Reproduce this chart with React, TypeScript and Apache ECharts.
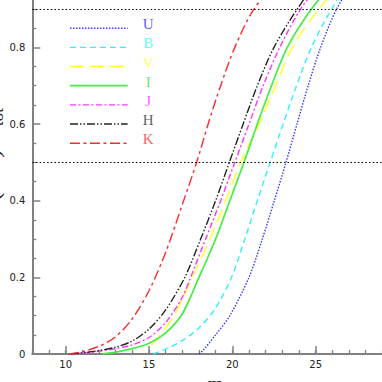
import React, { useEffect, useRef } from "react";
import * as echarts from "echarts";

// Cumulative luminosity fraction L(<m)/L_tot vs magnitude m, per band
const uM = [18.0, 18.25, 19.0, 19.85, 21.0, 21.8, 22.52, 23.22, 23.88, 24.55, 25.3, 26.26, 27.2, 29.0];
const uF = [0, 0.01, 0.05, 0.1, 0.2, 0.3, 0.4, 0.5, 0.6, 0.7, 0.8, 0.9, 0.96, 1.0];

const bM = [15.25, 16.0, 17.0, 18.0, 19.0, 20.0, 20.75, 21.5, 22.27, 23.05, 23.85, 24.75, 25.96, 27.0, 29.0];
const bF = [0, 0.013, 0.035, 0.068, 0.12, 0.205, 0.3, 0.4, 0.5, 0.6, 0.7, 0.8, 0.9, 0.96, 1.0];

const vM = [15.16, 15.5, 16.5, 17.6, 18.65, 19.6, 20.5, 21.6, 22.6, 23.6, 25.2, 26.5, 28.5];
const vF = [0.023, 0.04, 0.1, 0.2, 0.3, 0.4, 0.5, 0.6, 0.7, 0.8, 0.9, 0.96, 1.0];

const iM = [12.2, 13.0, 14.0, 15.0, 16.0, 17.0, 18.0, 19.0, 19.85, 20.7, 21.5, 22.35, 23.3, 24.75, 26.0, 28.0];
const iF = [0, 0.005, 0.014, 0.028, 0.055, 0.105, 0.2, 0.3, 0.4, 0.5, 0.6, 0.7, 0.8, 0.9, 0.96, 1.0];

const jM = [10.3, 11.0, 12.0, 13.0, 14.0, 15.0, 16.0, 17.0, 17.5, 18.4, 19.3, 20.15, 21.0, 21.85, 22.85, 24.1, 25.3, 27.5];
const jF = [0, 0.002, 0.007, 0.014, 0.024, 0.043, 0.082, 0.148, 0.2, 0.3, 0.4, 0.5, 0.6, 0.7, 0.8, 0.9, 0.96, 1.0];

const hM = [10.3, 11.0, 12.0, 13.0, 14.0, 15.0, 16.0, 17.15, 18.1, 19.0, 19.82, 20.65, 21.5, 22.5, 23.9, 25.0, 27.0];
const hF = [0, 0.003, 0.009, 0.018, 0.034, 0.065, 0.115, 0.2, 0.3, 0.4, 0.5, 0.6, 0.7, 0.8, 0.9, 0.96, 1.0];

const kM = [10.2, 11.0, 12.0, 13.0, 14.0, 15.0, 16.0, 17.0, 17.86, 18.55, 19.3, 20.15, 21.3, 22.6, 25.0];
const kF = [0, 0.006, 0.02, 0.045, 0.092, 0.165, 0.265, 0.39, 0.5, 0.6, 0.7, 0.8, 0.9, 0.96, 1.0];

const bandNames = ["U", "B", "V", "I", "J", "H", "K"];
const bandM = [uM, bM, vM, iM, jM, hM, kM];
const bandF = [uF, bF, vF, iF, jF, hF, kF];

// legend rows drawn in data coordinates
const legendY = [0.85, 0.8, 0.75, 0.7, 0.65, 0.6, 0.55];
const legendLineX = [10.26, 13.72];
const legendLabelX = 14.95;

// reference levels
const refLevels = [0.9, 0.5];

// axis ticks
const xMajorTicks = [10, 15, 20, 25, 30];

const yTitleMain = "L(<m)/L";
const yTitleSub = "tot";

const colors = ["#3a3aff", "#33f0ff", "#ffff22", "#44ee44", "#ff33ff", "#222222", "#ff2a2a"];
const labelColors = ["#3333ff", "#33ffff", "#ffff33", "#44dd44", "#ff33ff", "#333333", "#ff3333"];
const dashes: any[] = [[1.5, 1.5], [6, 4], [14, 6], "solid", [6, 2.5, 2, 2.5], [8, 2, 1.5, 2, 1.5, 2], [10, 3.5, 3, 3.5]];
const widths = [1.4, 1.4, 1.4, 1.7, 1.4, 1.4, 1.4];

export default function App() {
  const ref = useRef<HTMLDivElement>(null);
  useEffect(() => {
    if (!ref.current) return;
    const chart = echarts.init(ref.current, null, { renderer: "svg" });
    const axisGray = "#808080";

    const series: any[] = [];
    bandNames.forEach((name, i) => {
      series.push({
        name,
        type: "line",
        xAxisIndex: 0,
        yAxisIndex: 0,
        data: bandM[i].map((m, k) => [m, bandF[i][k]]),
        showSymbol: false,
        symbol: "none",
        smooth: 0.3,
        lineStyle: { color: colors[i], width: widths[i], type: dashes[i] },
        z: 3,
      });
      series.push({
        name: name + "-legend",
        type: "line",
        data: legendLineX.map((x) => [x, legendY[i]]),
        showSymbol: false,
        symbol: "none",
        lineStyle: { color: colors[i], width: widths[i], type: dashes[i] },
        z: 3,
      });
    });
    series.push({
      name: "legend-labels",
      type: "scatter",
      symbolSize: 1,
      itemStyle: { color: "transparent" },
      data: bandNames.map((n, i) => ({
        value: [legendLabelX, legendY[i]],
        label: {
          show: true,
          position: "inside",
          formatter: n,
          color: labelColors[i],
          fontFamily: "Liberation Serif",
          fontSize: 15,
          offset: [0, -4],
        },
      })),
      z: 4,
    });
    series.push({
      name: "ref",
      type: "line",
      data: [],
      markLine: {
        silent: true,
        symbol: ["none", "none"],
        label: { show: false },
        lineStyle: { color: "#000", type: [1.5, 2.2], width: 1.2 },
        data: refLevels.map((v) => ({ yAxis: v })),
      },
    });

    chart.setOption({
      animation: false,
      backgroundColor: "#fff",
      grid: {
        left: 32.3,
        right: -17,
        top: -29.3,
        bottom: 28,
        containLabel: false,
        outerBoundsMode: "none",
      },
      graphic: [
        {
          type: "text",
          x: -9.3,
          y: 171.5,
          rotation: Math.PI / 2,
          silent: true,
          style: {
            text: yTitleMain,
            fontFamily: "Liberation Serif",
            fontSize: 26,
            fill: "#222",
            align: "center",
            verticalAlign: "middle",
          },
        },
        {
          type: "text",
          x: -2.5,
          y: 117,
          rotation: Math.PI / 2,
          silent: true,
          style: {
            text: yTitleSub,
            fontFamily: "Liberation Serif",
            fontSize: 17,
            fill: "#222",
            align: "center",
            verticalAlign: "middle",
          },
        },
      ],
      xAxis: [
        {
          type: "value",
          min: 8,
          max: 30,
          interval: 1,
          position: "bottom",
          name: "m",
          nameLocation: "middle",
          nameGap: 14,
          nameTextStyle: { fontFamily: "Liberation Serif", fontSize: 20, color: "#222" },
          axisLine: { show: true, lineStyle: { color: axisGray, width: 2 } },
          axisTick: { show: true, inside: true, length: 4, lineStyle: { color: axisGray, width: 1.3 } },
          axisLabel: {
            margin: 5,
            color: "#222",
            fontFamily: "DejaVu Sans",
            fontSize: 10,
            formatter: (v: number) => (v % 5 === 0 ? String(v) : ""),
          },
          splitLine: { show: false },
        },
        {
          type: "value",
          min: 8,
          max: 30,
          position: "bottom",
          axisLine: { show: false },
          axisTick: { show: true, inside: true, length: 8, customValues: xMajorTicks, lineStyle: { color: axisGray, width: 1.5 } },
          axisLabel: { show: false },
          splitLine: { show: false },
        },
      ],
      yAxis: {
        type: "value",
        min: 0,
        max: 1,
        interval: 0.2,
        axisLine: { show: true, lineStyle: { color: axisGray, width: 2 } },
        axisTick: { show: true, inside: true, length: 8, lineStyle: { color: axisGray, width: 1.5 } },
        minorTick: { show: true, splitNumber: 4, length: 4, lineStyle: { color: axisGray, width: 1.3 } },
        axisLabel: { margin: 7, color: "#222", fontFamily: "DejaVu Sans", fontSize: 10 },
        splitLine: { show: false },
        minorSplitLine: { show: false },
      },
      series,
    });
    return () => chart.dispose();
  }, []);
  return <div ref={ref} style={{ position: "absolute", left: 0, top: 0, width: 382, height: 382 }} />;
}
